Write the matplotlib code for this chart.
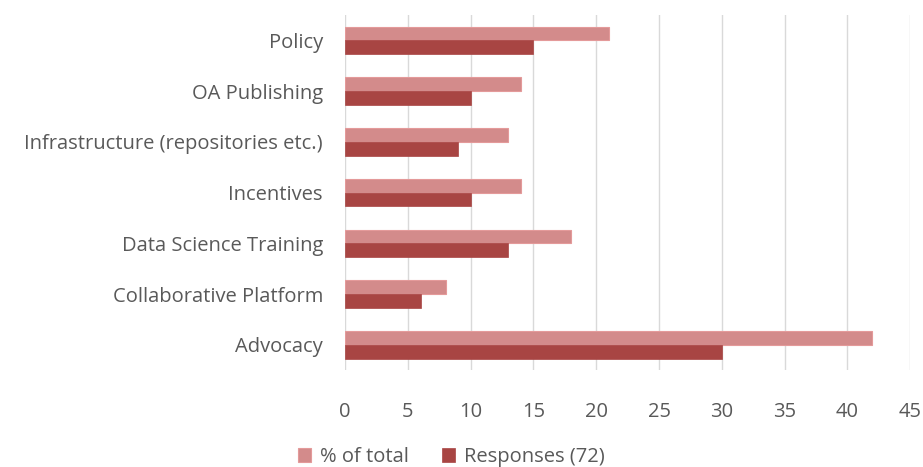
import numpy as np
import matplotlib.pyplot as plt

# data, top to bottom as shown
categories = ['Policy', 'OA Publishing', 'Infrastructure (repositories etc.)',
              'Incentives', 'Data Science Training', 'Collaborative Platform', 'Advocacy']
pct_total = [21, 14, 13, 14, 18, 8, 42]
responses = [15, 10, 9, 10, 13, 6, 30]

plt.rcParams['font.family'] = ['Open Sans', 'DejaVu Sans']

fig = plt.figure(figsize=(9.23, 4.67), dpi=100)
ax = fig.add_axes([0.374, 0.207, 0.612, 0.761])

y = np.arange(len(categories))
h = 0.27
light = ax.barh(y - h / 2, pct_total, height=h, color='#d38b8b',
                edgecolor='#e49a9a', linewidth=0.8, label='% of total', zorder=2)
dark = ax.barh(y + h / 2, responses, height=h, color='#a84543',
               edgecolor='#a84543', linewidth=0.5, label='Responses (72)', zorder=3)

ax.set_xlim(0, 45)
ax.set_ylim(len(categories) - 0.5, -0.5)
ax.set_xticks(range(0, 46, 5))
ax.set_yticks(y)
ax.set_yticklabels(categories)
ax.xaxis.grid(True, color='#d9d9d9', linewidth=1)
ax.set_axisbelow(True)
for s in ax.spines.values():
    s.set_visible(False)
ax.tick_params(length=0, labelsize=14.5, colors='#595959')
ax.tick_params(axis='y', pad=16)
ax.tick_params(axis='x', pad=22.5)

fig.legend(handles=[light, dark], loc='center', bbox_to_anchor=(0.489, 0.021),
           ncol=2, frameon=False, fontsize=14.5, labelcolor='#595959',
           handlelength=0.65, handleheight=0.65, columnspacing=1.6, handletextpad=0.45)

fig.savefig('out.png', dpi=100)
